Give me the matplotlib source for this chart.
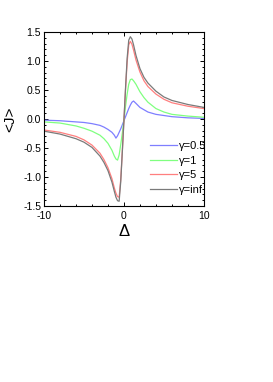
import numpy as np
import matplotlib
matplotlib.use('Agg')
import matplotlib.pyplot as plt
from matplotlib.ticker import MultipleLocator

plt.rcParams['font.family'] = ['Liberation Sans', 'DejaVu Sans']
plt.rcParams['axes.unicode_minus'] = False

# Delta grid (denser near the resonance)
delta = [-10, -8, -6, -5, -4, -3, -2.5, -2, -1.5, -1.2, -1, -0.8, -0.6, -0.4, -0.2,
         0, 0.2, 0.4, 0.6, 0.8, 1, 1.2, 1.5, 2, 2.5, 3, 4, 5, 6, 8, 10]

# <J>
J_05 = [-0.02, -0.03, -0.05, -0.06, -0.08, -0.11, -0.14, -0.18, -0.23, -0.28, -0.33, -0.29, -0.23, -0.17, -0.10,
        -0.03, 0.04, 0.11, 0.18, 0.24, 0.29, 0.31, 0.27, 0.20, 0.16, 0.12, 0.08, 0.06, 0.04, 0.02, 0.01]
J_1 = [-0.05, -0.07, -0.12, -0.16, -0.21, -0.28, -0.34, -0.42, -0.54, -0.64, -0.69, -0.71, -0.62, -0.44, -0.24,
       -0.02, 0.22, 0.43, 0.60, 0.68, 0.69, 0.66, 0.60, 0.47, 0.37, 0.29, 0.18, 0.12, 0.08, 0.05, 0.03]
J_5 = [-0.19, -0.23, -0.30, -0.36, -0.45, -0.59, -0.70, -0.84, -1.03, -1.19, -1.28, -1.34, -1.35, -1.04, -0.55,
       -0.02, 0.51, 0.98, 1.28, 1.34, 1.29, 1.19, 1.02, 0.81, 0.66, 0.56, 0.43, 0.34, 0.28, 0.22, 0.18]
J_inf = [-0.21, -0.26, -0.34, -0.40, -0.49, -0.64, -0.75, -0.89, -1.09, -1.25, -1.35, -1.41, -1.42, -1.08, -0.56,
         -0.02, 0.54, 1.05, 1.36, 1.42, 1.38, 1.28, 1.10, 0.87, 0.72, 0.62, 0.48, 0.38, 0.32, 0.25, 0.20]

labels = ['γ=0.5', 'γ=1', 'γ=5', 'γ=inf']
colors = ['#7f7fff', '#80ff80', '#ff7f7f', '#7a7a7a']

fig = plt.figure(figsize=(2.73, 3.82), dpi=100)
ax = fig.add_axes([0.161, 0.461, 0.586, 0.455])

for J, lab, c in zip([J_05, J_1, J_5, J_inf], labels, colors):
    ax.plot(delta, J, color=c, lw=0.9, label=lab)

ax.set_xlim(-10, 10)
ax.set_ylim(-1.5, 1.5)
ax.xaxis.set_major_locator(MultipleLocator(10))
ax.xaxis.set_minor_locator(MultipleLocator(2))
ax.yaxis.set_major_locator(MultipleLocator(0.5))
ax.yaxis.set_minor_locator(MultipleLocator(0.1))
ax.tick_params(which='both', direction='in', top=True, right=True, labelsize=7.5, width=0.7, pad=2)
ax.tick_params(axis='x', which='both', pad=3.5)
ax.tick_params(which='major', length=3)
ax.tick_params(which='minor', length=1.5)
for s in ax.spines.values():
    s.set_linewidth(0.8)

ax.set_xlabel('Δ', fontsize=12, labelpad=2)
ax.set_ylabel('<J>', fontsize=11, labelpad=4)

ax.legend(loc='lower right', bbox_to_anchor=(1.045, 0.04), frameon=False, fontsize=8,
          handlelength=2.4, labelspacing=0.4, handletextpad=0.25, borderaxespad=0.0)

fig.savefig('out.png', dpi=100)
